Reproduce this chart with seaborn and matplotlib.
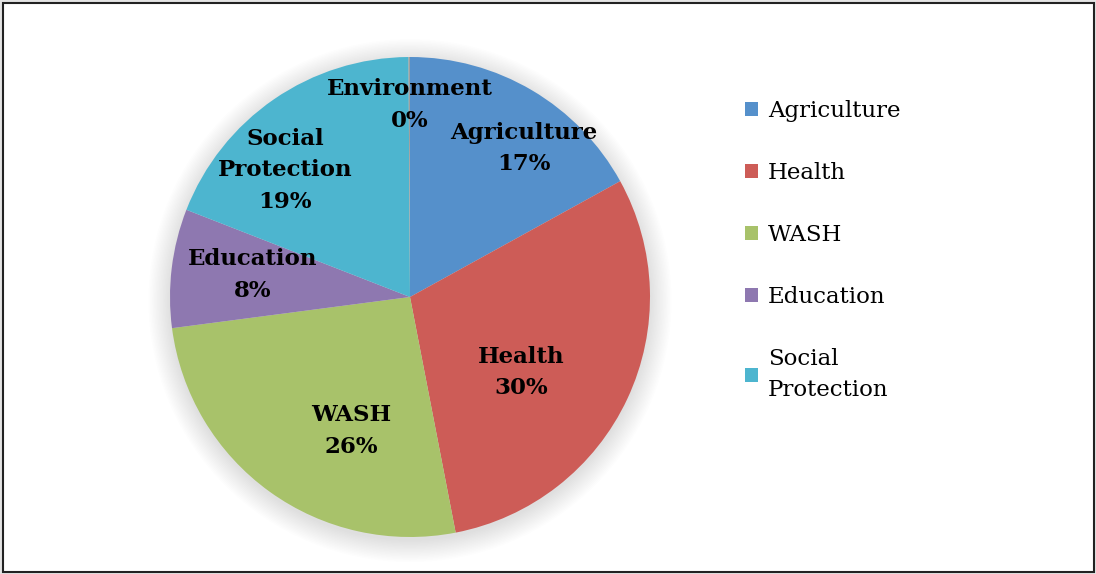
import numpy as np
import matplotlib
matplotlib.use("Agg")
import matplotlib.pyplot as plt
import seaborn as sns
from matplotlib.patches import Circle, Rectangle, Patch

sns.set_theme(style="white")
plt.rcParams['font.family'] = ['DejaVu Serif', 'DejaVu Sans']

# ---- data ----
categories = ["Agriculture", "Health", "WASH", "Education", "Social Protection", "Environment"]
label_text = ["Agriculture", "Health", "WASH", "Education", "Social\nProtection", "Environment"]
values = [17, 30, 26, 8, 19, 0.1]
pct_labels = ["17%", "30%", "26%", "8%", "19%", "0%"]
colors = ["#5590CB", "#CD5C57", "#A8C26A", "#8E78B0", "#4DB5CF", "#A0A0A0"]
legend_count = 5

# label placement (radius fraction, angle nudge in degrees, clockwise)
label_r = [0.78, 0.56, 0.61, 0.66, 0.74, 0.80]
label_nudge = [7, 9, -12, 1, -10, 0]

W, H = 1096, 574
fig = plt.figure(figsize=(W / 100, H / 100), dpi=100)
fig.patch.set_facecolor("#E4E4E4")
fig.patches.append(Rectangle((3 / W, 2 / H), (W - 5) / W, (H - 5) / H, transform=fig.transFigure,
                             facecolor="white", edgecolor="#222222", linewidth=1.5, zorder=-10))

cx, cy, R = 410, 297, 240
ax = fig.add_axes([(cx - R) / W, (H - cy - R) / H, 2 * R / W, 2 * R / H])
ax.patch.set_alpha(0)

# soft shadow
for i in range(16):
    ax.add_patch(Circle((0.0, -0.015), 1.0 + 0.006 * i, facecolor="black", edgecolor="none",
                        alpha=0.009, zorder=0, clip_on=False))

wedges, _ = ax.pie(values, colors=colors, startangle=90, counterclock=False, radius=1.0,
                   wedgeprops=dict(edgecolor="none", linewidth=0))
for w in wedges:
    w.set_zorder(2)
ax.set_xlim(-1, 1)
ax.set_ylim(-1, 1)
ax.set_aspect("equal")
ax.axis("off")

for w, lab, pct, r, nd in zip(wedges, label_text, pct_labels, label_r, label_nudge):
    mid = np.deg2rad((w.theta1 + w.theta2) / 2 - nd)
    x, y = r * np.cos(mid), r * np.sin(mid)
    ax.text(x, y, f"{lab}\n{pct}", ha="center", va="center", fontsize=16.5, fontweight="bold",
            color="black", linespacing=1.55, zorder=5)

handles = [Patch(facecolor=c, edgecolor="none") for c in colors[:legend_count]]
leg_labels = label_text[:legend_count]
leg = fig.legend(handles, leg_labels, loc="upper left", bbox_to_anchor=(745 / W, 1 - 100 / H),
                 frameon=False, fontsize=16.5, labelspacing=1.75, handlelength=0.55, handleheight=0.55,
                 handletextpad=0.45, borderaxespad=0, borderpad=0)
for t in leg.get_texts():
    t.set_color("black")
    t.set_linespacing(1.5)

fig.savefig("out.png", dpi=100, facecolor=fig.get_facecolor())
